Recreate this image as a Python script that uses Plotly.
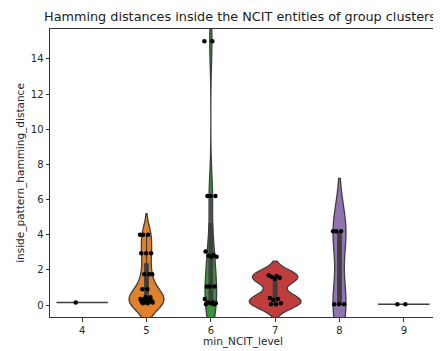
import plotly.graph_objects as go

levels = ["4", "5", "6", "7", "8", "9"]
values_4 = [0.15]
values_5 = [4.0, 4.0, 4.0, 2.95, 2.95, 2.95, 1.75, 1.75, 1.75, 0.9, 0.9,
            0.45, 0.45, 0.35, 0.35, 0.3, 0.25, 0.25, 0.2, 0.2, 0.15, 0.15, 0.1, 0.1]
values_6 = [15.0, 15.0, 6.2, 6.2, 6.2, 3.05, 2.85, 2.8, 2.75, 2.75, 1.05, 1.05, 1.05,
            0.35, 0.15, 0.15, 0.1, 0.1, 0.05, 0.05]
values_7 = [1.7, 1.65, 1.6, 1.55, 1.5, 0.4, 0.35, 0.3, 0.1, 0.05, 0.05]
values_8 = [4.2, 4.2, 4.2, 0.05, 0.05, 0.05]
values_9 = [0.05, 0.05]

series = [values_4, values_5, values_6, values_7, values_8, values_9]
colors = ["#3274a1", "#e1812c", "#3a923a", "#c03d3e", "#9372b2", "#845b53"]
widths = [0.8, 0.54, 0.18, 0.8, 0.2, 0.8]
bandwidths = [None, 0.6, 1.3, 0.4, 1.5, None]
box_widths = [0.1, 0.1, 0.3, 0.07, 0.27, 0.1]
EDGE = "#3f3f3f"

# the page body has an 8px margin; size the figure to the visible area
W, H, OFF = 433, 343, 8

fig = go.Figure()
for i, vals in enumerate(series):
    if len(set(vals)) == 1:
        v = vals[0]
        fig.add_trace(go.Scatter(x=[i - 0.4, i + 0.4], y=[v, v], mode="lines",
                                 line=dict(color=EDGE, width=1.5), showlegend=False,
                                 hoverinfo="skip"))
    else:
        fig.add_trace(go.Violin(
            x=[i] * len(vals), y=vals, width=widths[i], bandwidth=bandwidths[i],
            spanmode="soft", scalemode="width", points=False,
            fillcolor=colors[i], opacity=1,
            line=dict(color=EDGE, width=1.3),
            box=dict(visible=True, width=box_widths[i], fillcolor=EDGE,
                     line=dict(color=EDGE, width=1.2)),
            meanline=dict(visible=False), showlegend=False, hoveron="violins"))

# strip points with small deterministic jitter
for i, vals in enumerate(series):
    n = len(vals)
    offs = [(((k * 0.618034) % 1.0) - 0.5) * 0.2 for k in range(n)]
    fig.add_trace(go.Scatter(x=[i + o for o in offs], y=vals, mode="markers",
                             marker=dict(color="black", size=4.5),
                             showlegend=False))

fig.update_layout(
    width=W, height=H,
    margin=dict(l=50 - OFF, r=5, t=29 - OFF, b=34),
    plot_bgcolor="white", paper_bgcolor="white",
    font=dict(family="DejaVu Sans", size=10, color="#262626"),
    title=dict(text="Hamming distances inside the NCIT entities of group clusters",
               x=(240 - OFF) / W, xref="container", xanchor="center",
               y=1 - (17 - OFF) / H, yref="container", yanchor="middle",
               font=dict(size=12.8, color="#1a1a1a")),
    violinmode="overlay",
)
fig.update_xaxes(range=[-0.5, 5.5], tickmode="array", tickvals=list(range(6)),
                 ticktext=levels, showgrid=False, zeroline=False, automargin=False,
                 showline=True, mirror=True, linecolor="#333", linewidth=1,
                 ticks="outside", ticklen=3.5, tickcolor="#333",
                 tickfont=dict(size=10),
                 title=dict(text="min_NCIT_level", standoff=2, font=dict(size=10.5)))
fig.update_yaxes(range=[-0.68, 15.7], tickmode="array", tickvals=list(range(0, 15, 2)),
                 showgrid=False, zeroline=False, automargin=False,
                 showline=True, mirror=True, linecolor="#333", linewidth=1,
                 ticks="outside", ticklen=3.5, tickcolor="#333",
                 tickfont=dict(size=10),
                 title=dict(text="inside_pattern_hamming_distance", standoff=4,
                            font=dict(size=10.5)))

fig.write_html("out.html")
